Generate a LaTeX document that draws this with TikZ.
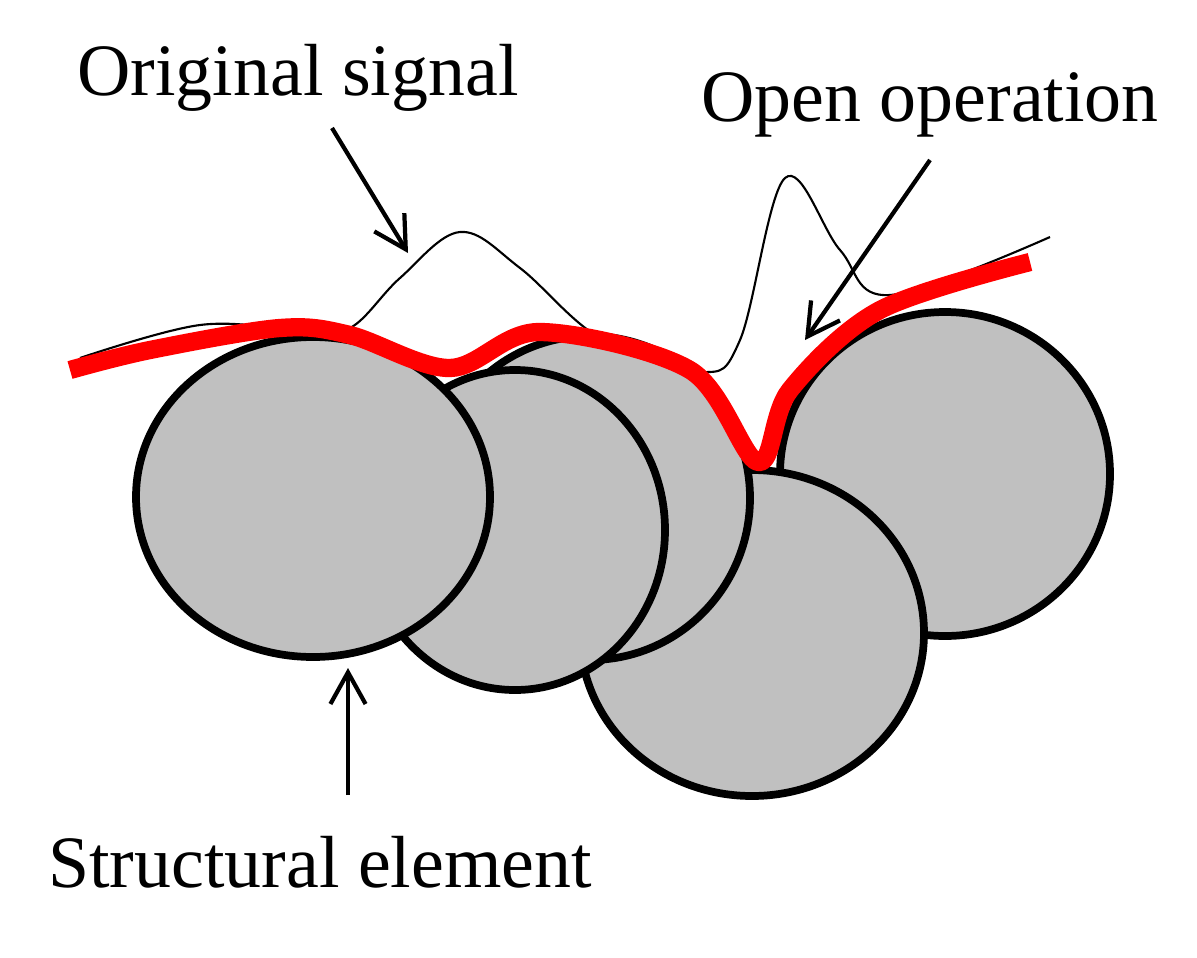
\documentclass[tikz,border=0pt]{standalone}
\usepackage{fontspec}
\setmainfont{Liberation Serif}
\usetikzlibrary{arrows.meta}
\begin{document}
\begin{tikzpicture}[x=0.01cm,y=-0.01cm,
  disc/.style={fill={rgb,255:red,192;green,192;blue,192},draw=black,line width=2.2pt},
  lbl/.style={font=\fontsize{21pt}{24pt}\selectfont,inner sep=0pt},
  arr/.style={-{Straight Barb[length=9pt,width=10pt,line width=1.2pt]},line width=1.2pt}]
\useasboundingbox (0,0) rectangle (1197,957);
\draw[disc] (945,474) ellipse [x radius=165,y radius=162];
\draw[disc] (752,633) ellipse [x radius=172,y radius=163];
\draw[disc] (590,498) ellipse [x radius=160,y radius=162];
\draw[disc] (515,530) ellipse [x radius=150,y radius=160];
\draw[disc] (313,497) ellipse [x radius=177,y radius=160];
\draw[line width=0.6pt] plot[smooth,tension=0.6] coordinates {(80,358) (200,325) (300,330) (350,328) (400,278) (460,232) (520,268) (600,338) (700,372) (740,340) (785,178) (840,250) (890,295) (1050,237)};
\draw[red,line width=5.2pt,line join=round] plot[smooth,tension=0.55] coordinates {(70,370) (150,350) (280,328) (350,335) (450,368) (540,332) (690,370) (758,462) (790,390) (880,310) (1030,262)};
\node[lbl] (os) at (298,78) {Original signal};
\node[lbl] (oo) at (930,105) {Open operation};
\node[lbl] (se) at (320,862) {Structural element};
\coordinate (a1) at (408,253);
\coordinate (a2) at (805,340);
\coordinate (a3) at (348,668);
\draw[arr] (332,128) -- (a1);
\draw[arr] (930,160) -- (a2);
\draw[arr] (348,795) -- (a3);
\end{tikzpicture}
\end{document}
